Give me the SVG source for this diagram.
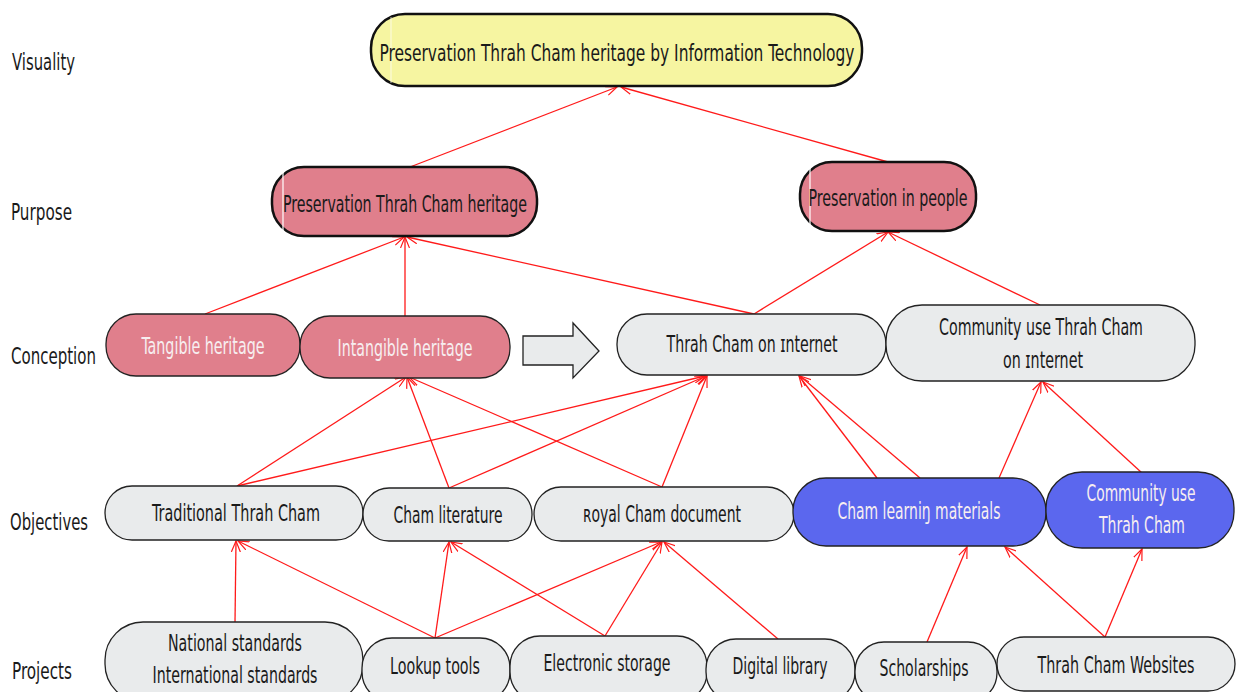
<svg xmlns="http://www.w3.org/2000/svg" width="1239" height="692" viewBox="0 0 1239 692">
<defs>
<style>
text{font-family:"DejaVu Sans Condensed","DejaVu Sans","Liberation Sans",sans-serif;font-size:23px;text-anchor:middle;fill:#1a1a1a}
.lbl{text-anchor:start}
.w{fill:#f7eef0}
.yel{fill:#f6f5a1;stroke:#111;stroke-width:2.5}
.pur{fill:#e07f8c;stroke:#111;stroke-width:2.5}
.pk{fill:#e07f8c;stroke:#222;stroke-width:1.3}
.gr{fill:#e9ebec;stroke:#222;stroke-width:1.3}
.bl{fill:#5b67ee;stroke:#222;stroke-width:1.3}
.hl{stroke:#fff;stroke-width:1.2}
#connectors line{stroke:#ff1a1a;stroke-width:1.3;marker-end:url(#ah)}
</style>
<marker id="ah" viewBox="0 0 12 10" refX="11" refY="5" markerWidth="12" markerHeight="10" markerUnits="userSpaceOnUse" orient="auto">
<path d="M0,0.5 L11,5 L0,9.5" fill="none" stroke="#ff1a1a" stroke-width="1.2"/>
</marker>
</defs>
<rect width="1239" height="692" fill="#fff"/>

<g id="row-labels">
<text class="lbl" x="12" y="70" textLength="63" lengthAdjust="spacingAndGlyphs">Visuality</text>
<text class="lbl" x="11" y="220" textLength="61" lengthAdjust="spacingAndGlyphs">Purpose</text>
<text class="lbl" x="11" y="364" textLength="85" lengthAdjust="spacingAndGlyphs">Conception</text>
<text class="lbl" x="10" y="530" textLength="78" lengthAdjust="spacingAndGlyphs">Objectives</text>
<text class="lbl" x="12" y="679" textLength="60" lengthAdjust="spacingAndGlyphs">Projects</text>
</g>

<g id="connectors">
<line x1="410" y1="167" x2="617" y2="87"/>
<line x1="888" y1="162" x2="621" y2="87"/>
<line x1="205" y1="314" x2="404" y2="237"/>
<line x1="405" y1="316" x2="405" y2="237"/>
<line x1="754" y1="314" x2="407" y2="237"/>
<line x1="754" y1="314" x2="888" y2="232"/>
<line x1="1040" y1="305" x2="888" y2="232"/>
<line x1="237" y1="486" x2="406" y2="377"/>
<line x1="237" y1="486" x2="705" y2="376"/>
<line x1="449" y1="488" x2="407" y2="377"/>
<line x1="449" y1="488" x2="706" y2="376"/>
<line x1="662" y1="487" x2="409" y2="377"/>
<line x1="662" y1="487" x2="707" y2="376"/>
<line x1="877" y1="478" x2="799" y2="376"/>
<line x1="920" y1="478" x2="800" y2="376"/>
<line x1="999" y1="478" x2="1041" y2="382"/>
<line x1="1142" y1="473" x2="1043" y2="382"/>
<line x1="235" y1="622" x2="236" y2="541"/>
<line x1="435" y1="638" x2="238" y2="541"/>
<line x1="435" y1="638" x2="449" y2="542"/>
<line x1="435" y1="638" x2="661" y2="542"/>
<line x1="605" y1="636" x2="451" y2="542"/>
<line x1="605" y1="636" x2="662" y2="542"/>
<line x1="778" y1="639" x2="664" y2="542"/>
<line x1="927" y1="642" x2="967" y2="547"/>
<line x1="1105" y1="637" x2="1005" y2="547"/>
<line x1="1105" y1="637" x2="1142" y2="549"/>
</g>

<g id="n-visuality">
<rect class="yel" x="371" y="14" width="491" height="72" rx="34"/>
<line class="hl" x1="391" y1="17" x2="391" y2="83" opacity="0.6"/>
<text x="617" y="61" textLength="475" lengthAdjust="spacingAndGlyphs">Preservation Thrah Cham heritage by Information Technology</text>
</g>

<g id="n-purpose-heritage">
<rect class="pur" x="272" y="167" width="265" height="69" rx="32"/>
<line class="hl" x1="283" y1="170" x2="283" y2="233"/>
<text x="405" y="212" textLength="244" lengthAdjust="spacingAndGlyphs">Preservation Thrah Cham heritage</text>
</g>

<g id="n-purpose-people">
<rect class="pur" x="800" y="162" width="176" height="69" rx="32"/>
<line class="hl" x1="810" y1="165" x2="810" y2="228"/>
<text x="888" y="206" textLength="159" lengthAdjust="spacingAndGlyphs">Preservation in people</text>
</g>

<g id="n-tangible">
<rect class="pk" x="106" y="314" width="194" height="62" rx="30"/>
<text class="w" x="203" y="354" textLength="123" lengthAdjust="spacingAndGlyphs">Tangible heritage</text>
</g>

<g id="n-intangible">
<rect class="pk" x="300" y="316" width="210" height="62" rx="30"/>
<text class="w" x="405" y="356" textLength="135" lengthAdjust="spacingAndGlyphs">Intangible heritage</text>
</g>

<g id="block-arrow">
<polygon points="523,336 573,336 573,323 599,351 573,378 573,365 523,365" fill="#e9ebec" stroke="#222" stroke-width="1.3"/>
</g>

<g id="n-internet">
<rect class="gr" x="617" y="314" width="269" height="61" rx="30"/>
<text x="752" y="352" textLength="171" lengthAdjust="spacingAndGlyphs">Thrah Cham on ɪnternet</text>
</g>

<g id="n-community-internet">
<rect class="gr" x="886" y="305" width="309" height="76" rx="36"/>
<text x="1041" y="335" textLength="204" lengthAdjust="spacingAndGlyphs">Community use Thrah Cham</text>
<text x="1043" y="368" textLength="80" lengthAdjust="spacingAndGlyphs">on ɪnternet</text>
</g>

<g id="n-traditional">
<rect class="gr" x="105" y="486" width="258" height="54" rx="27"/>
<text x="236" y="521" textLength="168" lengthAdjust="spacingAndGlyphs">Traditional Thrah Cham</text>
</g>

<g id="n-literature">
<rect class="gr" x="363" y="488" width="169" height="53" rx="26"/>
<text x="448" y="523" textLength="109" lengthAdjust="spacingAndGlyphs">Cham literature</text>
</g>

<g id="n-royal">
<rect class="gr" x="534" y="487" width="260" height="54" rx="27"/>
<text x="662" y="522" textLength="158" lengthAdjust="spacingAndGlyphs">ʀoyal Cham document</text>
</g>

<g id="n-learning">
<rect class="bl" x="793" y="478" width="253" height="68" rx="33"/>
<text class="w" x="919" y="519" textLength="163" lengthAdjust="spacingAndGlyphs">Cham learniŋ materials</text>
</g>

<g id="n-community">
<rect class="bl" x="1046" y="472" width="188" height="76" rx="36"/>
<text class="w" x="1141" y="501" textLength="109" lengthAdjust="spacingAndGlyphs">Community use</text>
<text class="w" x="1142" y="533" textLength="86" lengthAdjust="spacingAndGlyphs">Thrah Cham</text>
</g>

<g id="n-standards">
<rect class="gr" x="105" y="622" width="258" height="80" rx="38"/>
<text x="235" y="651" textLength="134" lengthAdjust="spacingAndGlyphs">National standards</text>
<text x="235" y="683" textLength="165" lengthAdjust="spacingAndGlyphs">International standards</text>
</g>

<g id="n-lookup">
<rect class="gr" x="362" y="638" width="148" height="64" rx="30"/>
<text x="435" y="674" textLength="90" lengthAdjust="spacingAndGlyphs">Lookup tools</text>
</g>

<g id="n-storage">
<rect class="gr" x="510" y="636" width="197" height="66" rx="30"/>
<text x="607" y="671" textLength="127" lengthAdjust="spacingAndGlyphs">Electronic storage</text>
</g>

<g id="n-digital">
<rect class="gr" x="706" y="639" width="149" height="63" rx="30"/>
<text x="780" y="674" textLength="95" lengthAdjust="spacingAndGlyphs">Digital library</text>
</g>

<g id="n-scholarships">
<rect class="gr" x="855" y="642" width="142" height="60" rx="29"/>
<text x="924" y="676" textLength="89" lengthAdjust="spacingAndGlyphs">Scholarships</text>
</g>

<g id="n-websites">
<rect class="gr" x="997" y="637" width="238" height="54" rx="27"/>
<text x="1116" y="673" textLength="157" lengthAdjust="spacingAndGlyphs">Thrah Cham Websites</text>
</g>
</svg>
